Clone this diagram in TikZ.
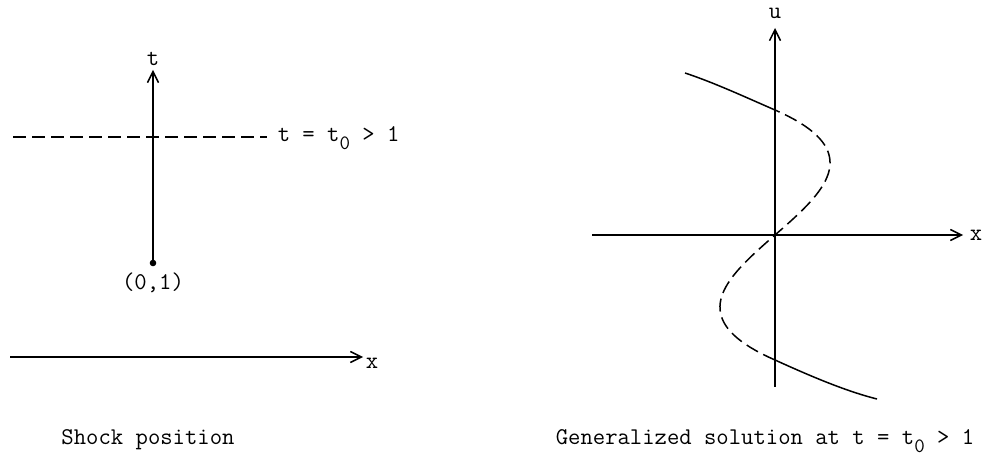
\documentclass[tikz,border=0pt]{standalone}
\usepackage{graphicx}
\usetikzlibrary{arrows.meta}

\newcommand{\tsub}[1]{\raisebox{-0.7ex}{\scalebox{0.85}{#1}}}

\tikzset{
    axis/.style={line width=1.5pt, -{Straight Barb[length=11pt,width=11pt,line width=1.5pt]}},
    dashline/.style={line width=1.5pt, dash pattern=on 13pt off 6pt},
    lbl/.style={font=\fontsize{24}{28}\selectfont\ttfamily, inner sep=2pt},
}

\begin{document}
\begin{tikzpicture}[x=1pt, y=1pt, line width=1.5pt]
    \useasboundingbox (0,0) rectangle (987,460);

    % Left: shock position
    \coordinate (P0) at (153,197); % (0,1)
    \coordinate (Ttop) at (153,390);
    \coordinate (D1) at (13,323);
    \coordinate (D2) at (267,323);
    \coordinate (X1) at (10,103);
    \coordinate (X2) at (363,103);

    \draw[axis] (P0) -- (Ttop) node[lbl, above=2pt] (tl) {t};
    \draw[dashline] (D1) -- (D2) node[lbl, anchor=base west, xshift=8pt, yshift=-5pt] (sl) {t = t\tsub{0} > 1};
    \fill (P0) circle (3.3pt);
    \node[lbl, below=7pt] (pl) at (P0) {(0,1)};
    \draw[axis] (X1) -- (X2) node[lbl, right, yshift=-6pt] (xl) {x};
    \node[lbl, anchor=base] (cap1) at (148,15) {Shock position};

    % Right: generalized solution
    \begin{scope}[shift={(775,225)}]
        \coordinate (O) at (0,0);
        \coordinate (Ubot) at (0,-152);
        \coordinate (Utop) at (0,207);
        \coordinate (Xl) at (-183,0);
        \coordinate (Xr) at (188,0);
        \draw[axis] (Ubot) -- (Utop) node[lbl, above=7pt] (ul) {u};
        \draw[axis] (Xl) -- (Xr) node[lbl, right, xshift=4pt] (xr) {x};

        % branches
        \coordinate (A1) at (-90,162);
        \coordinate (A2) at (0,125);
        \coordinate (B1) at (0,-125);
        \coordinate (B2) at (102,-164);
        \draw (A2) .. controls (-30,138) and (-60,152) .. (A1);
        \draw[dashline, domain=-1:1, samples=80] plot ({143*\x*(1-\x*\x)}, {125*\x});
        \draw (B1) .. controls (33,-140) and (70,-156) .. (B2);
    \end{scope}
    \node[lbl, anchor=base] (cap2) at (765,15) {Generalized solution at t = t\tsub{0} > 1};
\end{tikzpicture}
\end{document}
